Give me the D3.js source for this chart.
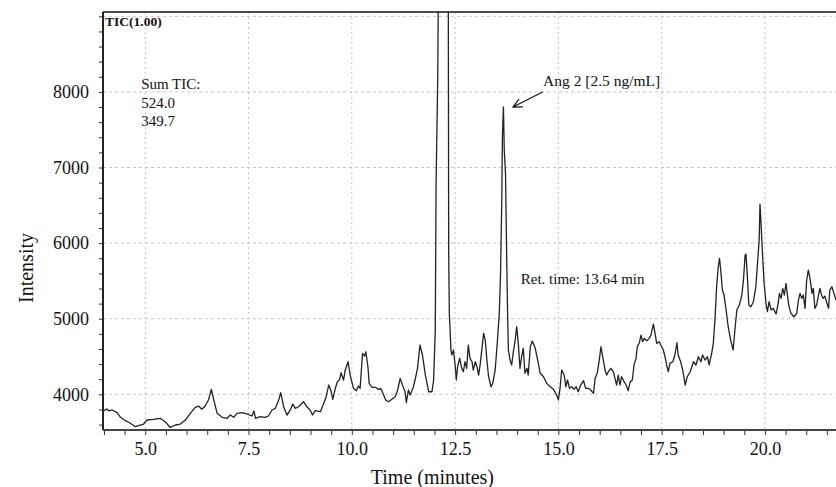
<!DOCTYPE html>
<html>
<head>
<meta charset="utf-8">
<script src="https://cdn.jsdelivr.net/npm/d3@7"></script>
<style>
  body { margin: 0; background: #fff; }
  svg { display: block; font-family: "Liberation Serif", "DejaVu Serif", serif; }
</style>
</head>
<body>
<div id="chart"></div>
<script>
// TIC chromatogram
const times = [
  3.98, 4.07, 4.12, 4.20, 4.32, 4.40, 4.52, 4.64, 4.76, 4.88, 4.96, 5.04, 5.20, 5.36, 5.48, 5.60,
  5.73, 5.85, 5.97, 6.09, 6.21, 6.29, 6.37, 6.45, 6.53, 6.60, 6.65, 6.74, 6.86, 6.98, 7.06, 7.14,
  7.22, 7.34, 7.46, 7.58, 7.63, 7.67, 7.78, 7.90, 7.98, 8.07, 8.15, 8.23, 8.28, 8.35, 8.43, 8.51,
  8.57, 8.63, 8.71, 8.83, 8.91, 8.99, 9.05, 9.11, 9.24, 9.32, 9.38, 9.44, 9.49, 9.54, 9.60, 9.65,
  9.70, 9.74, 9.80, 9.84, 9.91, 9.96, 10.04, 10.11, 10.16, 10.20, 10.26, 10.31, 10.34, 10.39, 10.42, 10.49,
  10.57, 10.65, 10.70, 10.77, 10.82, 10.89, 10.97, 11.05, 11.11, 11.17, 11.24, 11.29, 11.32, 11.37, 11.41, 11.48,
  11.53, 11.59, 11.65, 11.71, 11.78, 11.86, 11.94, 11.98, 12.02, 12.04, 12.08, 12.10, 12.16, 12.24, 12.31, 12.335,
  12.345, 12.36, 12.40, 12.42, 12.46, 12.50, 12.53, 12.56, 12.61, 12.66, 12.70, 12.74, 12.78, 12.82, 12.86, 12.91,
  12.94, 12.99, 13.03, 13.07, 13.11, 13.15, 13.19, 13.23, 13.27, 13.31, 13.37, 13.41, 13.47, 13.52, 13.57, 13.60,
  13.63, 13.645, 13.67, 13.69, 13.72, 13.75, 13.77, 13.79, 13.83, 13.87, 13.91, 13.95, 13.99, 14.03, 14.07, 14.11,
  14.15, 14.19, 14.24, 14.27, 14.32, 14.37, 14.44, 14.49, 14.56, 14.64, 14.72, 14.80, 14.88, 14.96, 15.00, 15.04,
  15.08, 15.14, 15.18, 15.22, 15.27, 15.32, 15.38, 15.43, 15.48, 15.54, 15.61, 15.66, 15.73, 15.78, 15.85, 15.89,
  15.94, 15.99, 16.03, 16.08, 16.13, 16.17, 16.21, 16.27, 16.33, 16.37, 16.41, 16.45, 16.49, 16.53, 16.59, 16.64,
  16.69, 16.74, 16.79, 16.83, 16.88, 16.91, 16.96, 17.00, 17.04, 17.08, 17.14, 17.20, 17.24, 17.30, 17.34, 17.38,
  17.44, 17.50, 17.54, 17.58, 17.62, 17.66, 17.70, 17.77, 17.82, 17.87, 17.90, 17.96, 18.01, 18.07, 18.12, 18.19,
  18.27, 18.33, 18.39, 18.45, 18.49, 18.55, 18.61, 18.65, 18.71, 18.75, 18.79, 18.83, 18.87, 18.90, 18.93, 18.97,
  19.01, 19.06, 19.11, 19.17, 19.23, 19.28, 19.32, 19.38, 19.44, 19.48, 19.52, 19.54, 19.57, 19.61, 19.66, 19.72,
  19.78, 19.82, 19.86, 19.88, 19.905, 19.94, 19.98, 20.03, 20.06, 20.10, 20.15, 20.20, 20.27, 20.32, 20.35, 20.39,
  20.43, 20.47, 20.51, 20.54, 20.58, 20.63, 20.70, 20.77, 20.81, 20.85, 20.89, 20.93, 20.97, 21.01, 21.05, 21.09,
  21.14, 21.17, 21.21, 21.25, 21.29, 21.33, 21.37, 21.41, 21.45, 21.49, 21.54, 21.57, 21.62, 21.67, 21.72
];
const intensities = [
  3780, 3806, 3780, 3793, 3757, 3696, 3651, 3617, 3572, 3594, 3607, 3660, 3669, 3683, 3638, 3564,
  3594, 3607, 3660, 3749, 3828, 3845, 3802, 3845, 3925, 4066, 3947, 3749, 3696, 3683, 3726, 3696,
  3749, 3757, 3740, 3713, 3780, 3683, 3704, 3696, 3713, 3793, 3815, 3925, 4021, 3836, 3726, 3793,
  3872, 3815, 3836, 3902, 3836, 3793, 3726, 3783, 3770, 3881, 3968, 4123, 4057, 3934, 4079, 4167,
  4189, 4286, 4189, 4321, 4431, 4255, 4079, 4048, 4110, 4079, 4542, 4506, 4563, 4365, 4145, 4093,
  4093, 4066, 4079, 3991, 3925, 3902, 3934, 3968, 4057, 4211, 4100, 4034, 3889, 4057, 3991, 4079,
  4189, 4344, 4652, 4520, 4255, 4034, 4034, 4189, 4850, 6800, 8200, 9800, 13000, 14000, 12000, 9400,
  5870, 5071, 4586, 4520, 4586, 4388, 4189, 4365, 4476, 4344, 4299, 4431, 4344, 4652, 4476, 4431,
  4321, 4431, 4365, 4255, 4409, 4608, 4806, 4718, 4453, 4233, 4100, 4145, 4321, 4674, 5071, 5600,
  6568, 7406, 7802, 7229, 6925, 5776, 5071, 4586, 4453, 4388, 4563, 4696, 4894, 4674, 4344, 4497,
  4608, 4278, 4344, 4255, 4629, 4705, 4608, 4476, 4278, 4233, 4145, 4100, 4066, 3991, 3925, 4079,
  4321, 4255, 4100, 4189, 4079, 4100, 4066, 4100, 4034, 4123, 4180, 4079, 4079, 4057, 4013, 4211,
  4278, 4453, 4629, 4476, 4321, 4255, 4299, 4344, 4299, 4211, 4123, 4255, 4123, 4233, 4167, 4123,
  4048, 4167, 4189, 4388, 4476, 4629, 4682, 4784, 4696, 4740, 4709, 4740, 4784, 4929, 4806, 4674,
  4696, 4629, 4586, 4497, 4388, 4299, 4409, 4431, 4520, 4682, 4520, 4431, 4321, 4123, 4233, 4299,
  4431, 4388, 4497, 4431, 4520, 4453, 4497, 4388, 4542, 4674, 4982, 5423, 5687, 5798, 5643, 5379,
  5313, 5115, 4894, 4718, 4586, 4894, 5115, 5181, 5313, 5511, 5841, 5855, 5600, 5181, 5159, 5225,
  5423, 5731, 6040, 6516, 6261, 5864, 5467, 5181, 5093, 5225, 5115, 5137, 5062, 5203, 5335, 5269,
  5401, 5313, 5467, 5335, 5167, 5071, 5026, 5071, 5247, 5335, 5269, 5313, 5137, 5511, 5643, 5533,
  5335, 5401, 5137, 5181, 5291, 5401, 5313, 5269, 5299, 5225, 5137, 5379, 5423, 5335, 5247
];

const xDomain = [3.977, 21.72];
const yDomain = [3528, 9057];
const xTickValues = [5.0, 7.5, 10.0, 12.5, 15.0, 17.5, 20.0];
const yTickValues = [4000, 5000, 6000, 7000, 8000];
const yGridValues = [4000, 5000, 6000, 7000, 8000, 9000];
const sumTicLines = ['Sum TIC:', '524.0', '349.7'];
const peakLabel = 'Ang 2 [2.5 ng/mL]';
const retLabel = 'Ret. time:  13.64 min';

const width = 836;
const height = 487;
const margin = { top: 12, right: 0, bottom: 57, left: 103 };
const innerW = width - margin.left - margin.right;
const innerH = height - margin.top - margin.bottom;

const svg = d3.select('#chart')
  .append('svg')
  .attr('width', width)
  .attr('height', height);

const x = d3.scaleLinear().domain(xDomain).range([margin.left, margin.left + innerW]);
const y = d3.scaleLinear().domain(yDomain).range([margin.top + innerH, margin.top]);

// clip for the trace
svg.append('defs').append('clipPath')
  .attr('id', 'plot-clip')
  .append('rect')
  .attr('x', margin.left)
  .attr('y', margin.top)
  .attr('width', innerW)
  .attr('height', innerH);

// dashed grid
svg.append('g')
  .selectAll('line')
  .data(xTickValues)
  .join('line')
  .attr('x1', d => x(d)).attr('x2', d => x(d))
  .attr('y1', margin.top).attr('y2', margin.top + innerH)
  .attr('stroke', '#c4c4c4')
  .attr('stroke-dasharray', '2,3');

svg.append('g')
  .selectAll('line')
  .data(yGridValues)
  .join('line')
  .attr('x1', margin.left).attr('x2', margin.left + innerW)
  .attr('y1', d => y(d)).attr('y2', d => y(d))
  .attr('stroke', '#c4c4c4')
  .attr('stroke-dasharray', '3,3');

// trace
const data = times.map((t, i) => ({ t, v: intensities[i] }));
const line = d3.line().x(d => x(d.t)).y(d => y(d.v));

svg.append('path')
  .datum(data)
  .attr('clip-path', 'url(#plot-clip)')
  .attr('fill', 'none')
  .attr('stroke', '#222')
  .attr('stroke-width', 1.3)
  .attr('stroke-linejoin', 'round')
  .attr('d', line);

// minor ticks
const xMinor = d3.range(4.0, 21.75, 0.5);
const yMinor = d3.range(3600, 9001, 200);

svg.append('g')
  .attr('transform', `translate(0,${margin.top + innerH})`)
  .call(d3.axisBottom(x).tickValues(xMinor).tickSize(5).tickFormat(''))
  .call(g => g.select('.domain').remove())
  .call(g => g.selectAll('line').attr('stroke', '#333'));

svg.append('g')
  .attr('transform', `translate(${margin.left},0)`)
  .call(d3.axisLeft(y).tickValues(yMinor).tickSize(4).tickFormat(''))
  .call(g => g.select('.domain').remove())
  .call(g => g.selectAll('line').attr('stroke', '#333'));

// labelled axes
svg.append('g')
  .attr('transform', `translate(0,${margin.top + innerH})`)
  .call(d3.axisBottom(x).tickValues(xTickValues).tickSize(0).tickPadding(12).tickFormat(d3.format('.1f')))
  .call(g => g.select('.domain').remove())
  .call(g => g.selectAll('text')
    .attr('fill', '#111')
    .style('font-family', '"Liberation Serif", serif')
    .style('font-size', '18px'));

svg.append('g')
  .attr('transform', `translate(${margin.left},0)`)
  .call(d3.axisLeft(y).tickValues(yTickValues).tickSize(0).tickPadding(14).tickFormat(d3.format('d')))
  .call(g => g.select('.domain').remove())
  .call(g => g.selectAll('text')
    .attr('fill', '#111')
    .style('font-family', '"Liberation Serif", serif')
    .style('font-size', '18px'));

// frame lines
svg.append('line')
  .attr('x1', margin.left).attr('x2', margin.left + innerW)
  .attr('y1', margin.top).attr('y2', margin.top)
  .attr('stroke', '#111').attr('stroke-width', 1.5);

svg.append('line')
  .attr('x1', margin.left).attr('x2', margin.left)
  .attr('y1', margin.top).attr('y2', margin.top + innerH)
  .attr('stroke', '#222').attr('stroke-width', 2);

svg.append('line')
  .attr('x1', margin.left).attr('x2', margin.left + innerW)
  .attr('y1', margin.top + innerH).attr('y2', margin.top + innerH)
  .attr('stroke', '#444').attr('stroke-width', 2);

// axis titles
svg.append('text')
  .attr('x', x(11.95))
  .attr('y', 484)
  .attr('text-anchor', 'middle')
  .style('font-size', '20px')
  .attr('fill', '#111')
  .text('Time (minutes)');

svg.append('text')
  .attr('transform', `translate(33,${margin.top + innerH / 2 + 47}) rotate(-90)`)
  .attr('text-anchor', 'middle')
  .style('font-size', '20px')
  .attr('fill', '#111')
  .text('Intensity');

// in-plot labels
svg.append('text')
  .attr('x', margin.left + 2)
  .attr('y', margin.top + 14)
  .style('font-size', '13.5px')
  .style('font-weight', 'bold')
  .attr('fill', '#111')
  .text('TIC(1.00)');

svg.append('g')
  .selectAll('text')
  .data(sumTicLines)
  .join('text')
  .attr('x', x(4.9))
  .attr('y', (d, i) => [89, 108, 126][i])
  .style('font-size', '15px')
  .attr('fill', '#111')
  .text(d => d);

svg.append('text')
  .attr('x', x(14.63))
  .attr('y', y(8080))
  .style('font-size', '15.5px')
  .attr('fill', '#111')
  .text(peakLabel);

svg.append('text')
  .attr('x', x(14.09))
  .attr('y', y(5460))
  .style('font-size', '15px')
  .attr('fill', '#111')
  .text(retLabel);

// arrow to the Ang 2 peak
const tip = [x(13.90), y(7800)];
const tail = [x(14.62), y(8000)];
const ang = Math.atan2(tail[1] - tip[1], tail[0] - tip[0]);
const headLen = 10;
const spread = 0.45;
const arrow = d3.path();
arrow.moveTo(tail[0], tail[1]);
arrow.lineTo(tip[0], tip[1]);
arrow.moveTo(tip[0] + headLen * Math.cos(ang - spread), tip[1] + headLen * Math.sin(ang - spread));
arrow.lineTo(tip[0], tip[1]);
arrow.lineTo(tip[0] + headLen * Math.cos(ang + spread), tip[1] + headLen * Math.sin(ang + spread));

svg.append('path')
  .attr('d', arrow.toString())
  .attr('fill', 'none')
  .attr('stroke', '#111')
  .attr('stroke-width', 1.2);
</script>
</body>
</html>
